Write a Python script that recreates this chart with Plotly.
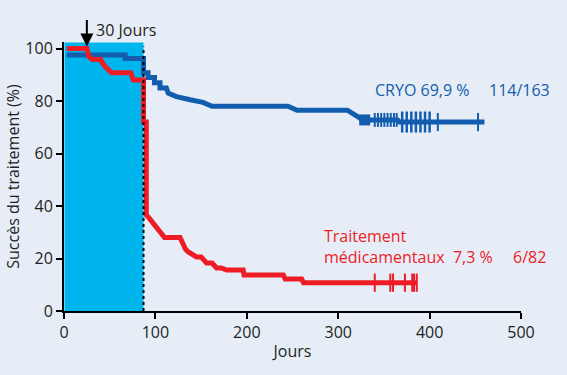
import plotly.graph_objects as go

# ---- data ----
cryo_days = [3, 67, 67, 87, 87, 92, 92, 99, 99, 105, 105, 112, 114, 123, 138, 152, 162, 245, 255, 310, 327, 365, 367, 460]
cryo_pct = [97.5, 97.5, 96.2, 96.2, 90.8, 90.8, 89, 89, 87, 87, 85, 85, 83, 81.7, 80.5, 79.5, 78, 78, 76.5, 76.5, 72.8, 72.8, 72, 72]

med_days = [3, 25, 27, 31, 40, 44, 52, 73, 76, 87, 87, 90, 90, 93, 110, 127, 133, 136, 145, 150, 156, 162, 167, 172, 178, 196, 197, 240, 242, 260, 262, 386]
med_pct = [100, 100, 97, 95.8, 95.8, 93.5, 90.8, 90.8, 88, 88, 72, 72, 36.6, 35.5, 28, 28, 23.5, 22.5, 20.6, 20.6, 18.3, 18.3, 16.4, 16.4, 15.6, 15.6, 13.7, 13.7, 12.2, 12.2, 10.8, 10.8]

cryo_cens_small = [340, 343.5, 347, 350.5, 354, 357.5, 361, 364]
cryo_cens_small_pct = [72.8] * len(cryo_cens_small)
cryo_cens_tall = [370, 375, 380, 385, 390, 395, 400]
cryo_cens_tall_pct = [72] * len(cryo_cens_tall)
cryo_cens_single = [409, 453]
cryo_cens_single_pct = [72, 72]
cryo_square = [329]
cryo_square_pct = [72.8]

med_cens = [340, 357, 360, 373, 381, 383, 386]
med_cens_pct = [10.8] * len(med_cens)

x_ticks = [0, 100, 200, 300, 400, 500]
y_ticks = [0, 20, 40, 60, 80, 100]

window_end = 87
arrow_day = 25

BLUE = "#135DAE"
RED = "#EE1C25"
CYAN = "#00B5EE"
BG = "#E6EDF7"
INK = "#231F20"
FONT = "Open Sans"

fig = go.Figure()

fig.add_shape(type="rect", x0=0.5, x1=window_end, y0=0, y1=102.3, xref="x", yref="y",
              fillcolor=CYAN, line=dict(width=0), layer="below")
fig.add_shape(type="line", x0=window_end, x1=window_end, y0=0, y1=100.8, xref="x", yref="y",
              line=dict(color="black", width=2, dash="dot"), layer="above")

fig.add_trace(go.Scatter(x=cryo_days, y=cryo_pct, mode="lines",
                         line=dict(color=BLUE, width=5), hoverinfo="skip"))
fig.add_trace(go.Scatter(x=med_days, y=med_pct, mode="lines",
                         line=dict(color=RED, width=5), hoverinfo="skip"))

fig.add_trace(go.Scatter(x=cryo_cens_small, y=cryo_cens_small_pct, mode="markers",
                         marker=dict(symbol="line-ns", size=10, line=dict(color=BLUE, width=2))))
fig.add_trace(go.Scatter(x=cryo_cens_tall, y=cryo_cens_tall_pct, mode="markers",
                         marker=dict(symbol="line-ns", size=15, line=dict(color=BLUE, width=2.5))))
fig.add_trace(go.Scatter(x=cryo_cens_single, y=cryo_cens_single_pct, mode="markers",
                         marker=dict(symbol="line-ns", size=13, line=dict(color=BLUE, width=2))))
fig.add_trace(go.Scatter(x=cryo_square, y=cryo_square_pct, mode="markers",
                         marker=dict(symbol="square", size=11, color=BLUE, line=dict(width=0))))
fig.add_trace(go.Scatter(x=med_cens, y=med_cens_pct, mode="markers",
                         marker=dict(symbol="line-ns", size=13, line=dict(color=RED, width=2))))

ann_font = dict(family=FONT, size=16)
fig.add_annotation(x=arrow_day, y=100.8, xref="x", yref="y", text="", showarrow=True,
                   ax=0, ay=-28, arrowhead=2, arrowsize=1.3, arrowwidth=2, arrowcolor="black")
fig.add_annotation(x=(94 - 64) / 457, y=(311 - 30) / 269, xref="paper", yref="paper",
                   text="30 Jours", showarrow=False, xanchor="left", yanchor="middle",
                   font=dict(family=FONT, size=16, color=INK))
fig.add_annotation(x=338, y=84.2, text="CRYO 69,9 %", showarrow=False, xanchor="left",
                   yanchor="middle", font=dict(ann_font, color=BLUE))
fig.add_annotation(x=463, y=84.2, text="114/163", showarrow=False, xanchor="left",
                   yanchor="middle", font=dict(ann_font, color=BLUE))
fig.add_annotation(x=282, y=24.6, text="Traitement<br>médicamentaux  7,3 %", showarrow=False,
                   xanchor="left", yanchor="middle", align="left", font=dict(ann_font, color=RED))
fig.add_annotation(x=489, y=20.6, text="6/82", showarrow=False, xanchor="left",
                   yanchor="middle", font=dict(ann_font, color=RED))

axis_common = dict(showgrid=False, zeroline=False, showline=True, linecolor="black", linewidth=2,
                   ticks="outside", tickcolor="black", tickwidth=2, ticklen=6,
                   tickfont=dict(family=FONT, size=16, color=INK))

fig.update_xaxes(range=[0, 500], tickvals=x_ticks, ticktext=[str(v) for v in x_ticks],
                 title=dict(text="Jours", font=dict(family=FONT, size=16, color=INK), standoff=4),
                 **axis_common)
fig.update_yaxes(range=[0, 102.5], tickvals=y_ticks, ticktext=[str(v) for v in y_ticks],
                 title=dict(text="Succès du traitement (%)", font=dict(family=FONT, size=16, color=INK), standoff=2),
                 **axis_common)

fig.update_layout(width=567, height=375, margin=dict(l=64, r=46, t=42, b=64),
                  paper_bgcolor=BG, plot_bgcolor=BG, showlegend=False,
                  font=dict(family=FONT, color=INK))

fig.write_html("out.html", config={"displayModeBar": False},
               post_script="document.body.style.margin='0';document.body.style.background='%s';" % BG)
